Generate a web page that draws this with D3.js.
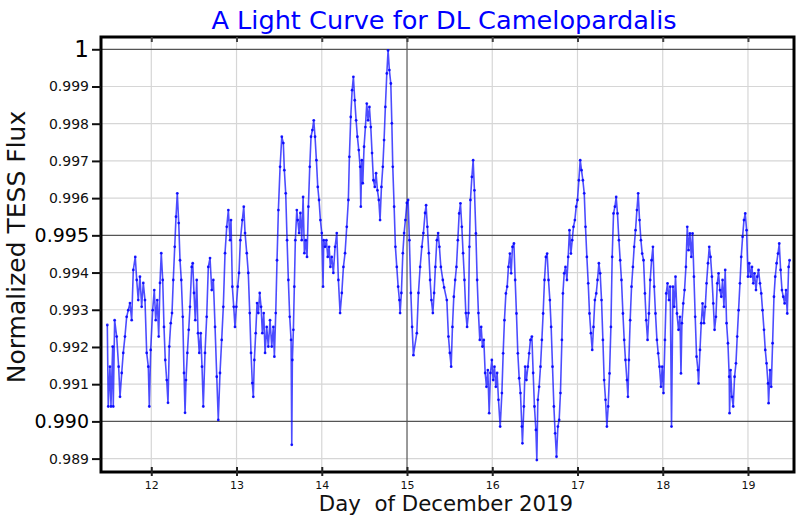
<!DOCTYPE html>
<html>
<head>
<meta charset="utf-8">
<script src="https://cdn.jsdelivr.net/npm/d3@7"></script>
<style>
  html, body { margin: 0; padding: 0; background: #fff; }
  svg { display: block; font-family: "DejaVu Sans", sans-serif; }
</style>
</head>
<body>
<svg id="chart" width="800" height="520"></svg>
<script>
// ---- data ----
const chartTitle = "A Light Curve for DL Camelopardalis";
const xLabel = "Day  of December 2019";
const yLabel = "Normalized TESS Flux";
const xTicks = [12, 13, 14, 15, 16, 17, 18, 19];
const yMinorTicks = [0.989, 0.991, 0.992, 0.993, 0.994, 0.996, 0.997, 0.998, 0.999];
const yMajorTicks = [0.990, 0.995, 1.0];
const xMajorGrid = [15];

const days = [
  11.484,11.495,11.515,11.527,11.547,11.554,11.570,11.594,11.617,11.633,
  11.653,11.671,11.691,11.711,11.730,11.750,11.770,11.789,11.812,11.829,
  11.847,11.867,11.887,11.906,11.926,11.946,11.965,11.977,11.993,12.016,
  12.035,12.052,12.070,12.087,12.102,12.117,12.134,12.149,12.164,12.181,
  12.196,12.211,12.228,12.243,12.258,12.275,12.290,12.305,12.322,12.337,
  12.352,12.369,12.384,12.396,12.407,12.423,12.439,12.454,12.474,12.486,
  12.501,12.516,12.533,12.548,12.563,12.580,12.595,12.610,12.630,12.650,
  12.669,12.689,12.709,12.728,12.748,12.768,12.786,12.806,12.826,12.845,
  12.865,12.885,12.904,12.924,12.935,12.951,12.967,12.982,12.998,13.014,
  13.029,13.045,13.068,13.085,13.100,13.120,13.138,13.155,13.170,13.185,
  13.197,13.209,13.225,13.241,13.256,13.272,13.288,13.303,13.319,13.335,
  13.354,13.373,13.393,13.413,13.432,13.444,13.460,13.475,13.491,13.511,
  13.531,13.549,13.561,13.577,13.593,13.608,13.624,13.640,13.648,13.655,
  13.667,13.678,13.690,13.707,13.718,13.734,13.749,13.765,13.781,13.796,
  13.812,13.827,13.843,13.859,13.874,13.890,13.906,13.921,13.937,13.953,
  13.968,13.984,14.000,14.015,14.023,14.039,14.054,14.070,14.086,14.101,
  14.117,14.136,14.156,14.176,14.195,14.215,14.235,14.254,14.273,14.293,
  14.312,14.324,14.340,14.356,14.371,14.387,14.403,14.418,14.434,14.450,
  14.458,14.469,14.481,14.496,14.512,14.528,14.543,14.559,14.575,14.590,
  14.606,14.622,14.637,14.653,14.669,14.684,14.700,14.716,14.731,14.746,
  14.763,14.778,14.793,14.810,14.822,14.833,14.849,14.864,14.880,14.896,
  14.911,14.919,14.934,14.951,14.966,14.981,14.998,15.013,15.028,15.045,
  15.060,15.075,15.115,15.134,15.154,15.174,15.192,15.212,15.224,15.239,
  15.256,15.271,15.286,15.303,15.318,15.333,15.350,15.365,15.380,15.397,
  15.420,15.435,15.467,15.486,15.502,15.518,15.533,15.549,15.565,15.580,
  15.596,15.612,15.627,15.643,15.658,15.674,15.690,15.705,15.721,15.732,
  15.744,15.761,15.776,15.791,15.808,15.823,15.838,15.854,15.870,15.885,
  15.901,15.917,15.932,15.948,15.964,15.979,15.995,16.011,16.026,16.042,
  16.057,16.073,16.093,16.113,16.128,16.143,16.160,16.175,16.190,16.207,
  16.222,16.237,16.254,16.269,16.284,16.300,16.316,16.331,16.347,16.354,
  16.371,16.386,16.401,16.418,16.433,16.448,16.465,16.480,16.495,16.512,
  16.523,16.535,16.550,16.566,16.582,16.597,16.613,16.629,16.644,16.660,
  16.676,16.691,16.707,16.723,16.738,16.754,16.770,16.785,16.800,16.817,
  16.829,16.844,16.859,16.876,16.891,16.906,16.923,16.938,16.953,16.969,
  16.985,17.000,17.016,17.032,17.047,17.063,17.079,17.094,17.110,17.126,
  17.141,17.157,17.173,17.188,17.204,17.220,17.235,17.251,17.266,17.282,
  17.298,17.313,17.329,17.345,17.360,17.376,17.392,17.407,17.423,17.439,
  17.454,17.469,17.486,17.501,17.516,17.533,17.548,17.563,17.580,17.592,
  17.603,17.618,17.634,17.650,17.665,17.681,17.697,17.712,17.728,17.744,
  17.759,17.775,17.791,17.806,17.822,17.838,17.853,17.869,17.885,17.900,
  17.915,17.932,17.947,17.962,17.979,17.994,18.009,18.026,18.041,18.056,
  18.073,18.088,18.103,18.120,18.135,18.150,18.167,18.185,18.202,18.214,
  18.225,18.241,18.256,18.272,18.288,18.303,18.319,18.335,18.350,18.366,
  18.381,18.397,18.413,18.420,18.437,18.452,18.467,18.484,18.499,18.514,
  18.531,18.546,18.561,18.577,18.593,18.608,18.624,18.640,18.655,18.671,
  18.687,18.702,18.718,18.733,18.749,18.765,18.780,18.784,18.796,18.812,
  18.827,18.843,18.859,18.874,18.890,18.906,18.921,18.937,18.953,18.968,
  18.984,19.000,19.015,19.031,19.047,19.062,19.077,19.094,19.109,19.124,
  19.141,19.156,19.171,19.188,19.203,19.218,19.235,19.242,19.258,19.273,
  19.289,19.305,19.320,19.336,19.352,19.367,19.383,19.399,19.414,19.430,
  19.446,19.461,19.477,19.488
];

const flux = [
  0.99259,0.99040,0.99147,0.99040,0.99201,0.99040,0.99272,0.99228,0.99147,0.99066,
  0.99130,0.99184,0.99228,0.99281,0.99299,0.99318,0.99272,0.99407,0.99442,0.99380,
  0.99326,0.99389,0.99308,0.99372,0.99326,0.99184,0.99147,0.99040,0.99192,0.99299,
  0.99353,0.99272,0.99326,0.99228,0.99372,0.99452,0.99380,0.99254,0.99165,0.99111,
  0.99050,0.99201,0.99264,0.99291,0.99380,0.99469,0.99550,0.99613,0.99533,0.99433,
  0.99380,0.99281,0.99130,0.99023,0.99111,0.99184,0.99246,0.99308,0.99415,0.99425,
  0.99345,0.99272,0.99380,0.99237,0.99184,0.99237,0.99147,0.99040,0.99184,0.99281,
  0.99415,0.99439,0.99353,0.99380,0.99254,0.99120,0.99004,0.99130,0.99219,0.99308,
  0.99452,0.99523,0.99568,0.99487,0.99541,0.99362,0.99308,0.99254,0.99308,0.99362,
  0.99399,0.99487,0.99541,0.99577,0.99506,0.99452,0.99399,0.99291,0.99184,0.99103,
  0.99066,0.99165,0.99237,0.99318,0.99291,0.99345,0.99308,0.99237,0.99291,0.99184,
  0.99254,0.99201,0.99272,0.99201,0.99254,0.99174,0.99291,0.99433,0.99568,0.99684,
  0.99765,0.99748,0.99675,0.99613,0.99487,0.99380,0.99281,0.99219,0.98937,0.99165,
  0.99246,0.99362,0.99487,0.99568,0.99541,0.99506,0.99560,0.99487,0.99603,0.99452,
  0.99487,0.99442,0.99577,0.99684,0.99765,0.99783,0.99809,0.99765,0.99702,0.99630,
  0.99595,0.99541,0.99506,0.99362,0.99487,0.99469,0.99487,0.99442,0.99469,0.99415,
  0.99442,0.99399,0.99469,0.99506,0.99380,0.99291,0.99345,0.99415,0.99452,0.99523,
  0.99595,0.99711,0.99818,0.99890,0.99926,0.99863,0.99809,0.99765,0.99729,0.99684,
  0.99577,0.99702,0.99640,0.99738,0.99791,0.99854,0.99809,0.99845,0.99791,0.99721,
  0.99648,0.99630,0.99667,0.99621,0.99595,0.99541,0.99630,0.99684,0.99756,0.99845,
  0.99935,0.99997,0.99944,0.99908,0.99801,0.99684,0.99577,0.99469,0.99415,0.99362,
  0.99326,0.99291,0.99345,0.99452,0.99506,0.99541,0.99587,0.99595,0.99487,0.99345,
  0.99254,0.99178,0.99237,0.99345,0.99415,0.99469,0.99506,0.99560,0.99581,0.99523,
  0.99452,0.99380,0.99326,0.99291,0.99345,0.99415,0.99487,0.99506,0.99469,0.99415,
  0.99380,0.99360,0.99326,0.99228,0.99184,0.99147,0.99254,0.99335,0.99380,0.99415,
  0.99487,0.99559,0.99586,0.99523,0.99452,0.99380,0.99291,0.99254,0.99291,0.99469,
  0.99595,0.99657,0.99702,0.99621,0.99505,0.99380,0.99291,0.99219,0.99254,0.99201,
  0.99219,0.99130,0.99093,0.99138,0.99022,0.99130,0.99165,0.99111,0.99147,0.99093,
  0.99130,0.99058,0.98986,0.99076,0.99183,0.99272,0.99344,0.99362,0.99415,0.99451,
  0.99398,0.99469,0.99478,0.99380,0.99290,0.99183,0.99116,0.99076,0.98986,0.98941,
  0.99040,0.99147,0.99111,0.99147,0.99183,0.99219,0.99228,0.99130,0.99040,0.98977,
  0.98896,0.99058,0.99093,0.99147,0.99219,0.99290,0.99380,0.99442,0.99451,0.99380,
  0.99326,0.99254,0.99147,0.99040,0.98968,0.98905,0.98986,0.99004,0.99076,0.99219,
  0.99344,0.99398,0.99415,0.99380,0.99442,0.99514,0.99451,0.99487,0.99523,0.99541,
  0.99577,0.99595,0.99648,0.99702,0.99675,0.99648,0.99613,0.99523,0.99442,0.99371,
  0.99290,0.99237,0.99192,0.99254,0.99326,0.99344,0.99380,0.99425,0.99398,0.99326,
  0.99219,0.99111,0.99058,0.98986,0.99040,0.99129,0.99254,0.99442,0.99559,0.99577,
  0.99603,0.99559,0.99487,0.99433,0.99380,0.99290,0.99219,0.99165,0.99111,0.99066,
  0.99165,0.99272,0.99362,0.99415,0.99469,0.99514,0.99568,0.99613,0.99541,0.99487,
  0.99451,0.99433,0.99344,0.99272,0.99219,0.99290,0.99380,0.99433,0.99469,0.99362,
  0.99290,0.99219,0.99183,0.99147,0.99093,0.99147,0.99076,0.99219,0.99344,0.99371,
  0.99326,0.99362,0.98986,0.99362,0.99308,0.99389,0.99290,0.99246,0.99281,0.99129,
  0.99264,0.99317,0.99353,0.99415,0.99523,0.99460,0.99505,0.99442,0.99505,0.99389,
  0.99281,0.99174,0.99138,0.99102,0.99192,0.99264,0.99317,0.99264,0.99308,0.99371,
  0.99425,0.99469,0.99442,0.99389,0.99317,0.99246,0.99281,0.99371,0.99398,0.99353,
  0.99335,0.99380,0.99308,0.99407,0.99264,0.99210,0.99120,0.99022,0.99138,0.99066,
  0.99040,0.99120,0.99156,0.99228,0.99299,0.99371,0.99442,0.99496,0.99541,0.99559,
  0.99514,0.99389,0.99425,0.99389,0.99415,0.99371,0.99398,0.99353,0.99389,0.99407,
  0.99371,0.99344,0.99299,0.99246,0.99192,0.99156,0.99102,0.99049,0.99138,0.99093,
  0.99210,0.99335,0.99389,0.99425,0.99451,0.99478,0.99407,0.99353,0.99335,0.99317,
  0.99353,0.99290,0.99415,0.99433
];

// ---- layout ----
const svg = d3.select("#chart");
const m = { left: 101, right: 794, top: 37, bottom: 472 };

const x = d3.scaleLinear().domain([11.41, 19.54]).range([m.left, m.right]);
const y = d3.scaleLinear().domain([0.98864, 1.00033]).range([m.bottom, m.top]);

// minor grid
const grid = svg.append("g");
grid.selectAll("line.vg").data(xTicks.filter(d => !xMajorGrid.includes(d))).join("line")
  .attr("x1", d => x(d)).attr("x2", d => x(d))
  .attr("y1", m.top).attr("y2", m.bottom)
  .attr("stroke", "#d6d6d6").attr("stroke-width", 1.2);
grid.selectAll("line.hg").data(yMinorTicks).join("line")
  .attr("x1", m.left).attr("x2", m.right)
  .attr("y1", d => y(d)).attr("y2", d => y(d))
  .attr("stroke", "#d6d6d6").attr("stroke-width", 1.2);
// major grid
grid.selectAll("line.hmg").data(yMajorTicks).join("line")
  .attr("x1", m.left).attr("x2", m.right)
  .attr("y1", d => y(d)).attr("y2", d => y(d))
  .attr("stroke", "#555").attr("stroke-width", 1.2);
grid.selectAll("line.vmg").data(xMajorGrid).join("line")
  .attr("x1", d => x(d)).attr("x2", d => x(d))
  .attr("y1", m.top).attr("y2", m.bottom)
  .attr("stroke", "#555").attr("stroke-width", 1.2);

// data
const pts = days.map((d, i) => [d, flux[i]]);
const plot = svg.append("g");
plot.append("path")
  .datum(pts)
  .attr("fill", "none")
  .attr("stroke", "#0000ff")
  .attr("stroke-opacity", 0.7)
  .attr("stroke-width", 1.6)
  .attr("stroke-linejoin", "round")
  .attr("d", d3.line().x(d => x(d[0])).y(d => y(d[1])));
plot.selectAll("circle").data(pts).join("circle")
  .attr("cx", d => x(d[0])).attr("cy", d => y(d[1]))
  .attr("r", 1.4).attr("fill", "#0000ff").attr("fill-opacity", 0.85);

// frame
svg.append("rect")
  .attr("x", m.left).attr("y", m.top)
  .attr("width", m.right - m.left).attr("height", m.bottom - m.top)
  .attr("fill", "none").attr("stroke", "#000").attr("stroke-width", 3);

// bottom axis
const xAxis = svg.append("g").attr("transform", `translate(0,${m.bottom})`)
  .call(d3.axisBottom(x).tickValues(xTicks).tickFormat(d3.format("d")).tickSize(4).tickSizeOuter(0));
xAxis.select(".domain").remove();
xAxis.selectAll(".tick line").attr("stroke", "#222").attr("stroke-width", 2).attr("y1", -5);
xAxis.selectAll(".tick text").attr("font-size", 11).attr("font-family", "DejaVu Sans").attr("fill", "#111").attr("dy", "0.9em");

// top ticks
const xTop = svg.append("g").attr("transform", `translate(0,${m.top})`)
  .call(d3.axisTop(x).tickValues(xTicks).tickFormat("").tickSize(-5).tickSizeOuter(0));
xTop.select(".domain").remove();
xTop.selectAll(".tick line").attr("stroke", "#444").attr("stroke-width", 2);

// left axis: minor labels
const yAxisMinor = svg.append("g").attr("transform", `translate(${m.left},0)`)
  .call(d3.axisLeft(y).tickValues(yMinorTicks).tickFormat(d3.format(".3f")).tickSize(9).tickPadding(3).tickSizeOuter(0));
yAxisMinor.select(".domain").remove();
yAxisMinor.selectAll(".tick line").attr("stroke", "#111").attr("stroke-width", 2);
yAxisMinor.selectAll(".tick text").attr("font-size", 14).attr("font-family", "DejaVu Sans").attr("fill", "#111");

// left axis: major labels
const fmtMajor = d => d === 1 ? "1" : d3.format(".3f")(d);
const yAxisMajor = svg.append("g").attr("transform", `translate(${m.left},0)`)
  .call(d3.axisLeft(y).tickValues(yMajorTicks).tickFormat(fmtMajor).tickSize(9).tickPadding(3).tickSizeOuter(0));
yAxisMajor.select(".domain").remove();
yAxisMajor.selectAll(".tick line").attr("stroke", "#111").attr("stroke-width", 2);
yAxisMajor.selectAll(".tick text")
  .attr("font-size", d => d === 1 ? 23 : 19)
  .attr("font-family", "DejaVu Sans").attr("fill", "#000");

// title
svg.append("text").attr("x", 444).attr("y", 29).attr("text-anchor", "middle")
  .attr("font-size", 25.6).attr("fill", "#0000ff").text(chartTitle);

// x label
svg.append("text").attr("x", 446).attr("y", 511).attr("text-anchor", "middle")
  .attr("font-size", 21.3).attr("fill", "#111").attr("xml:space", "preserve").style("white-space", "pre").text(xLabel);

// y label
svg.append("text").attr("transform", "translate(25,247) rotate(-90)").attr("text-anchor", "middle")
  .attr("font-size", 25).attr("fill", "#111").text(yLabel);
</script>
</body>
</html>
